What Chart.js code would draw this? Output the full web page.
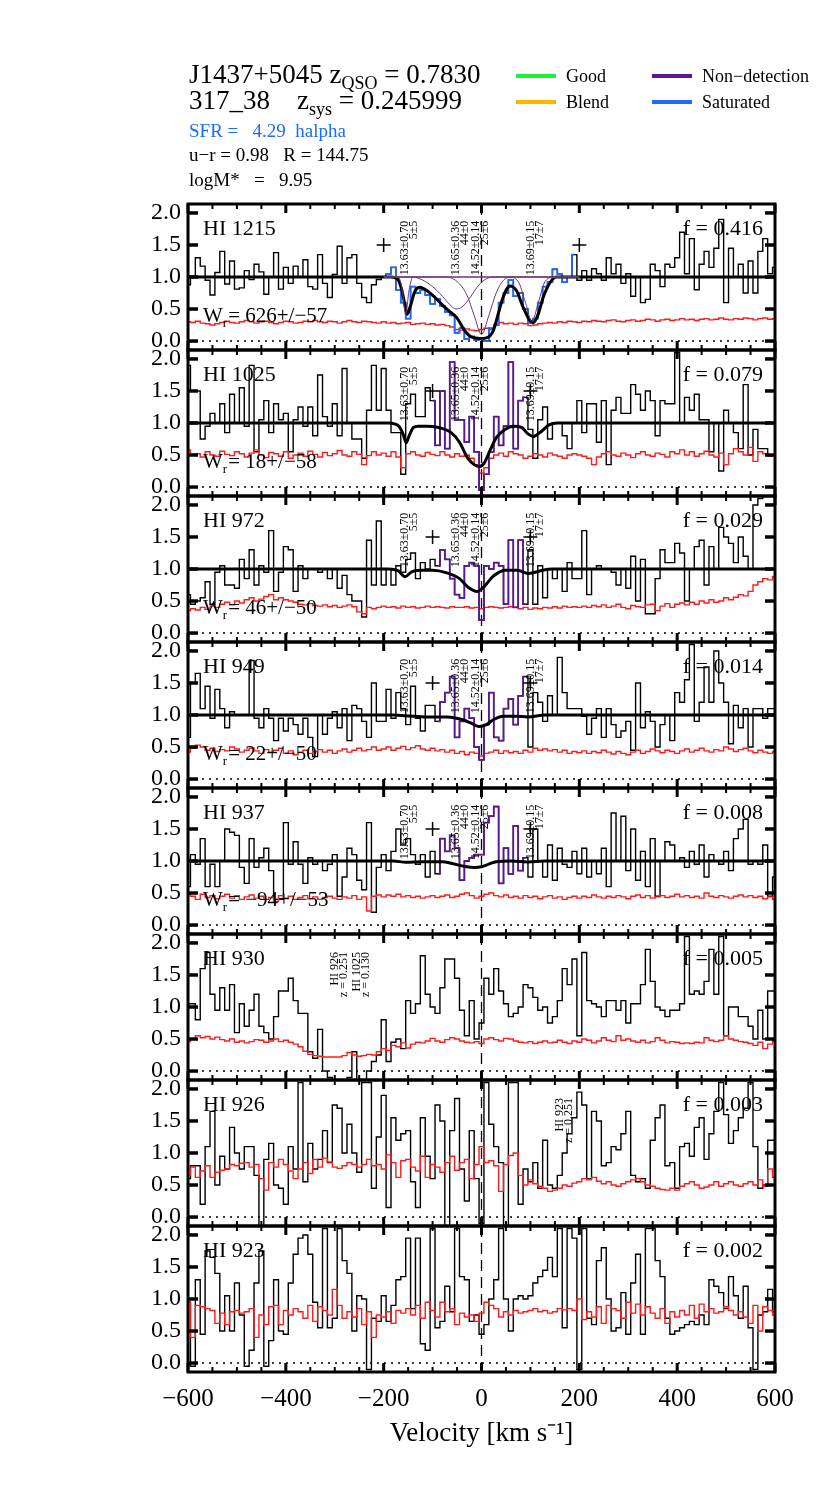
<!DOCTYPE html>
<html>
<head>
<meta charset="utf-8">
<script src="https://cdn.jsdelivr.net/npm/chart.js@4.4.1/dist/chart.umd.min.js"></script>
<style>
  body { margin: 0; background: #fff; font-family: "Liberation Serif", serif; }
  #lienzo { position: relative; width: 830px; height: 1495px; }
  #grafico { position: absolute; left: 0; top: 0; }
  .cab { position: absolute; white-space: pre; color: #000; line-height: 1; }
  .cab sub { font-size: 18px; vertical-align: -6px; }
  .t1 { font-size: 27px; }
  .t2 { font-size: 19px; }
  .ley { position: absolute; height: 4px; width: 40px; }
  .leyTxt { position: absolute; font-size: 18px; line-height: 1; white-space: pre; }
</style>
</head>
<body>
<div id="lienzo">
  <canvas id="grafico" width="830" height="1495"></canvas>
  <div class="cab t1" style="left:189px;top:61px">J1437+5045 z<sub>QSO</sub> = 0.7830</div>
  <div class="cab t1" style="left:189px;top:87px">317_38    z<sub>sys</sub> = 0.245999</div>
  <div class="cab t2" style="left:189px;top:121px;color:#1a6cff">SFR =   4.29  halpha</div>
  <div class="cab t2" style="left:189px;top:145px">u−r = 0.98   R = 144.75</div>
  <div class="cab t2" style="left:189px;top:170px">logM*   =   9.95</div>
  <div class="ley" style="left:516px;top:74px;background:#22ee33"></div>
  <div class="leyTxt" style="left:566px;top:67px">Good</div>
  <div class="ley" style="left:516px;top:100px;background:#ffb400"></div>
  <div class="leyTxt" style="left:566px;top:93px">Blend</div>
  <div class="ley" style="left:652px;top:74px;background:#5a1896"></div>
  <div class="leyTxt" style="left:702px;top:67px">Non−detection</div>
  <div class="ley" style="left:652px;top:100px;background:#1f6bff"></div>
  <div class="leyTxt" style="left:702px;top:93px">Saturated</div>
</div>
<script>
// Rejilla de velocidad (km/s), un bin cada 10 km/s
const velocidad = [];
for (let v = -600; v <= 600; v += 10) velocidad.push(v);

const marcasX = [-600, -400, -200, 0, 200, 400, 600];
const marcasY = [0, 0.5, 1, 1.5, 2];

// Paneles
const lineas = ['HI 1215', 'HI 1025', 'HI 972', 'HI 949', 'HI 937', 'HI 930', 'HI 926', 'HI 923'];
const fracciones = ['f = 0.416', 'f = 0.079', 'f = 0.029', 'f = 0.014', 'f = 0.008', 'f = 0.005', 'f = 0.003', 'f = 0.002'];
const anchos = ['626+/\u221257', '18+/\u221258', '46+/\u221250', '22+/\u221250', '\u221294+/\u221253', null, null, null];

// Flujo normalizado
const flujo1 = [0.88,1.0,1.3,1.17,0.95,0.72,1.07,1.4,0.89,1.25, 0.81,0.83,1.1,0.96,1.2,1.08,0.73,1.0,1.38,0.81,
  1.15,0.9,1.17,1.0,1.27,0.85,0.81,1.35,0.9,0.68, 1.04,1.48,0.9,1.3,1.35,0.9,0.68,0.6,0.88,0.96,
  1.0,1.05,1.15,0.8,0.6,0.35,0.85,0.75,0.8,0.72, 0.58,0.66,0.55,0.45,0.4,0.13,0.2,0.03,0.07,0.02,
  0.05,0.0,0.2,0.25,0.6,0.75,0.95,0.7,0.75,0.5, 0.28,0.35,0.6,0.85,0.92,1.12,1.05,0.92,1.0,1.35,
  0.95,1.1,0.95,1.13,1.05,0.95,1.3,1.05,1.2,0.9, 1.05,0.7,1.0,0.6,0.65,1.2,1.1,0.85,1.2,1.15,
  1.3,1.7,1.05,1.6,0.8,1.2,1.4,1.15,1.45,1.9, 0.6,1.45,1.0,1.2,0.75,1.25,0.75,1.4,1.6,1.05, 1.15];
const flujo2 = [1.9,1.5,1.5,0.75,0.95,1.15,1.0,1.3,0.85,1.45, 1.0,1.55,0.95,1.9,0.55,1.05,1.35,0.85,1.3,1.05,
  1.15,0.55,1.05,1.25,0.95,1.25,0.8,1.75,1.1,0.95, 1.3,0.8,1.85,1.0,0.75,0.75,0.45,1.2,1.9,1.2,
  1.85,1.2,0.85,0.85,0.2,1.3,1.45,1.1,1.1,1.55, 1.35,0.65,1.5,0.6,1.95,1.05,1.05,0.7,1.1,0.55,
  -0.05,0.2,0.55,1.1,0.65,0.95,1.95,0.6,1.35,1.4, 0.9,0.45,1.05,1.25,0.75,1.0,1.0,0.8,0.6,1.0,
  1.35,0.85,1.3,1.3,0.7,1.35,0.35,1.2,1.4,1.15, 1.15,1.6,1.45,1.2,1.5,1.35,0.8,1.35,1.3,1.3,
  2.1,1.0,1.4,1.2,1.45,1.05,1.05,0.55,1.0,0.25, 1.2,1.0,0.85,0.6,1.6,0.5,0.9,0.6,0.6,0.5, 0.5];
const flujo3 = [0.6,0.45,0.5,0.55,0.8,0.45,0.95,1.05,0.75,0.75, 0.7,1.15,0.85,1.3,0.75,1.05,0.95,1.6,0.65,0.95,
  1.35,1.3,0.65,1.05,0.85,1.0,1.0,0.95,1.0,0.85, 1.0,0.7,0.9,0.6,0.5,0.5,0.25,1.45,0.75,1.75,
  0.75,1.0,0.75,1.05,0.95,1.15,1.25,0.85,1.1,1.0, 1.15,1.05,1.3,1.15,0.85,0.6,0.55,1.05,1.1,1.05,
  0.2,1.05,1.0,1.1,1.05,0.45,1.45,0.4,1.45,0.45, 1.3,0.45,1.05,0.55,1.0,0.85,1.0,0.65,1.1,0.85,
  0.85,1.6,0.6,1.0,1.05,1.0,1.0,0.95,0.75,1.0, 0.7,1.2,0.5,1.15,0.3,0.3,0.85,1.3,1.1,1.1,
  1.4,1.25,0.5,1.0,1.35,1.45,0.75,1.35,1.0,1.65, 1.5,1.4,1.1,1.5,1.2,1.0,2.0,2.1,2.15,2.15, 2.15];
const flujo4 = [0.65,1.5,1.65,1.1,1.45,0.95,1.4,1.1,0.8,1.05, 1.0,1.0,1.0,1.85,0.95,0.8,1.1,0.95,0.6,0.95,
  0.75,0.95,0.85,0.7,0.95,0.65,0.35,1.0,0.7,0.95, 1.05,0.8,1.1,0.6,1.15,1.1,0.9,0.65,1.5,0.9,
  0.9,1.4,0.95,1.35,1.1,0.85,1.45,0.95,0.75,1.15, 1.15,0.9,1.2,1.35,1.6,0.65,0.9,1.1,0.95,0.5,
  0.3,0.85,1.35,0.65,0.6,1.1,1.25,0.85,1.3,1.6, 0.5,1.35,1.2,0.9,1.3,1.0,1.9,1.35,1.1,1.1,
  1.1,0.98,0.7,0.95,1.1,0.65,1.1,0.85,0.65,0.75, 0.9,0.45,1.5,0.8,1.05,0.9,0.5,0.85,1.0,0.6,
  1.35,1.2,1.55,2.1,0.9,1.2,1.75,1.2,2.0,1.5, 1.2,0.55,1.15,0.8,1.1,0.5,1.1,1.1,0.95,1.1, 1.1];
const flujo5 = [0.6,1.1,0.95,1.35,0.6,0.95,0.6,1.0,1.5,1.45, 1.4,0.9,0.65,1.35,0.9,1.05,1.2,0.85,0.4,0.4,
  1.6,0.95,1.3,0.95,0.65,1.05,0.95,1.0,0.85,0.95, 1.1,0.45,0.75,1.2,1.1,0.7,0.55,1.6,0.2,0.9,
  1.1,0.85,1.15,1.5,1.25,1.35,1.1,0.95,1.1,0.75, 1.15,0.8,1.35,1.15,1.4,1.2,0.7,1.0,1.05,1.1,
  1.1,1.6,1.7,1.85,0.65,1.2,0.8,1.55,0.85,1.05, 0.75,1.5,1.0,0.75,1.25,0.7,1.2,0.95,0.9,1.15,
  0.8,1.2,0.75,1.0,0.8,1.2,0.6,1.75,1.0,1.7, 0.85,1.5,0.7,1.15,0.6,1.35,0.45,1.0,1.3,1.25,
  1.0,1.05,0.9,1.15,0.95,1.25,0.75,1.1,1.0,0.95, 1.15,0.85,1.35,1.5,1.65,0.95,1.0,0.95,1.25,0.45, 0.75];
const flujo6 = [1.05,1.05,0.8,1.6,1.85,1.2,0.95,1.3,0.95,1.35, 0.6,1.05,0.7,0.95,1.2,0.7,0.6,0.5,0.85,1.25,
  1.25,1.45,1.1,0.9,0.9,0.3,0.2,0.65,0.0,-0.1, -0.15,-0.15,-0.15,-0.1,0.3,-0.15,-0.15,0.0,0.15,0.25,
  0.8,0.15,0.45,0.5,0.35,1.1,0.9,1.05,1.8,1.2, 1.0,0.9,1.3,1.75,1.75,1.45,0.95,0.55,1.1,0.5,
  0.75,1.45,1.2,1.6,1.25,1.05,0.85,0.9,1.0,1.35, 1.3,1.15,0.95,1.0,0.75,0.85,1.1,1.6,1.35,1.75,
  0.55,1.85,1.1,1.05,1.0,0.85,1.1,1.1,0.95,1.1, 0.75,1.05,1.05,1.35,1.9,1.4,1.0,0.95,0.85,0.95,
  0.95,1.05,2.1,1.2,1.25,1.2,1.4,1.9,1.2,2.1, 0.55,1.0,1.0,0.85,0.85,0.7,0.5,0.95,0.5,1.25, 1.25];
const flujo7 = [0.6,0.8,0.8,0.2,1.1,1.65,0.5,0.95,0.75,1.4, 1.0,0.75,1.1,1.1,0.65,-0.2,0.9,1.15,0.5,0.45,
  0.2,1.1,0.75,2.1,0.55,1.15,0.75,0.9,1.35,0.85, 1.75,1.7,1.0,1.45,1.0,0.7,2.1,2.1,0.45,1.25,
  1.9,0.15,1.55,1.2,1.3,1.35,0.55,0.15,1.55,0.95, 0.6,1.75,1.5,-0.2,1.35,1.85,0.75,0.25,1.35,0.6,
  -0.1,2.1,1.45,1.1,0.85,-0.15,2.1,2.1,0.2,0.75, 0.55,0.85,0.45,1.2,0.5,0.45,0.65,1.0,1.3,1.55,
  1.95,1.75,0.6,1.65,1.5,0.8,0.85,1.1,1.05,1.3, 1.65,0.65,0.55,0.6,0.45,1.2,1.55,1.75,0.8,0.85,
  0.45,1.1,1.15,0.95,1.4,1.55,0.9,1.3,1.65,2.1, 1.6,1.15,1.35,1.55,1.7,2.1,1.1,0.45,0.5,1.2, 1.2];
const flujo8 = [0.95,-0.05,1.3,0.45,1.75,1.65,1.4,0.5,1.05,0.5, 1.25,0.75,-0.05,0.2,1.25,1.75,-0.05,0.35,1.3,0.5,
  0.45,1.25,1.7,1.95,2.0,1.7,0.95,0.55,2.1,0.55, 0.7,2.1,1.6,1.4,0.5,1.05,1.0,-0.1,0.7,0.65,
  1.05,0.65,0.9,1.3,1.35,1.95,0.85,1.95,0.3,0.2, 2.1,0.55,0.65,1.2,0.8,2.1,1.35,1.3,0.65,0.75,
  0.45,0.6,1.0,1.3,2.1,1.0,0.5,1.0,1.05,1.0, 1.05,1.25,1.35,1.45,1.65,1.35,2.1,0.55,2.1,1.95,
  -0.1,2.1,0.7,0.6,1.6,1.8,1.0,0.5,0.55,1.1, 0.45,1.25,1.7,0.45,2.1,2.1,1.6,1.35,0.7,0.45,
  0.5,0.55,0.6,0.65,0.6,0.75,0.6,1.3,1.2,1.1, 0.85,1.35,1.05,0.7,1.2,0.55,-0.1,0.75,0.8,1.15, 0.8];

// Error del flujo
const error1 = [0.30,0.29,0.31,0.28,0.27,0.25,0.27,0.29,0.31,0.29,0.28,0.30,0.32,0.30,0.28,0.30,0.31,0.29,0.27,0.29,
  0.31,0.30,0.28,0.29,0.31,0.30,0.32,0.30,0.29,0.31,0.30,0.28,0.30,0.32,0.30,0.29,0.31,0.30,0.29,0.28,
  0.30,0.28,0.29,0.27,0.28,0.29,0.26,0.27,0.28,0.26,0.27,0.25,0.26,0.24,0.22,0.18,0.17,0.19,0.17,0.16,
  0.18,0.20,0.18,0.26,0.29,0.27,0.28,0.26,0.28,0.27,0.24,0.25,0.27,0.28,0.29,0.28,0.30,0.29,0.31,0.30,
  0.29,0.31,0.30,0.32,0.31,0.30,0.32,0.33,0.31,0.30,0.32,0.33,0.31,0.32,0.34,0.33,0.31,0.33,0.34,0.32,0.33,
  0.35,0.33,0.34,0.32,0.34,0.35,0.33,0.34,0.36,0.34,0.33,0.35,0.34,0.36,0.35,0.33,0.35,0.36,0.34,0.35];
const error2 = [0.58,0.50,0.52,0.47,0.55,0.50,0.48,0.56,0.51,0.49,0.55,0.52,0.47,0.53,0.58,0.50,0.46,0.54,0.52,0.48,
  0.55,0.45,0.50,0.53,0.48,0.56,0.51,0.47,0.54,0.49,0.52,0.57,0.50,0.48,0.55,0.51,0.35,0.49,0.55,0.50,
  0.53,0.48,0.55,0.47,0.30,0.52,0.55,0.50,0.48,0.54,0.51,0.49,0.55,0.50,0.47,0.52,0.48,0.50,0.45,0.35,
  0.22,0.30,0.45,0.50,0.53,0.48,0.55,0.52,0.50,0.45,0.48,0.52,0.50,0.47,0.53,0.50,0.48,0.45,0.50,0.52,
  0.50,0.48,0.45,0.35,0.47,0.52,0.55,0.50,0.48,0.53,0.50,0.46,0.52,0.55,0.50,0.48,0.53,0.51,0.47,0.55,0.52,
  0.58,0.50,0.55,0.48,0.52,0.56,0.50,0.47,0.53,0.35,0.52,0.60,0.55,0.50,0.62,0.40,0.55,0.52,0.48,0.50];
const error3 = [0.35,0.38,0.36,0.40,0.37,0.42,0.40,0.45,0.48,0.44,0.50,0.47,0.52,0.55,0.50,0.53,0.57,0.60,0.52,0.55,
  0.52,0.50,0.48,0.45,0.44,0.46,0.43,0.42,0.44,0.41,0.43,0.40,0.42,0.44,0.41,0.33,0.30,0.40,0.38,0.40,
  0.42,0.40,0.41,0.39,0.42,0.40,0.41,0.39,0.40,0.42,0.40,0.41,0.40,0.39,0.41,0.40,0.40,0.41,0.39,0.40,
  0.38,0.40,0.41,0.40,0.39,0.40,0.41,0.40,0.38,0.40,0.37,0.39,0.38,0.40,0.39,0.41,0.39,0.42,0.40,0.41,
  0.40,0.42,0.40,0.43,0.41,0.44,0.40,0.42,0.45,0.40,0.38,0.43,0.41,0.40,0.44,0.45,0.35,0.42,0.46,0.40,0.45,
  0.47,0.44,0.48,0.45,0.50,0.47,0.52,0.48,0.50,0.55,0.52,0.56,0.60,0.58,0.65,0.75,0.80,0.85,0.83,0.88];
const error4 = [0.42,0.48,0.53,0.50,0.45,0.48,0.43,0.46,0.44,0.50,0.47,0.42,0.45,0.48,0.44,0.40,0.46,0.42,0.45,0.48,
  0.40,0.44,0.38,0.42,0.45,0.40,0.43,0.46,0.42,0.45,0.40,0.44,0.47,0.42,0.45,0.48,0.44,0.46,0.50,0.45,
  0.47,0.50,0.45,0.48,0.51,0.46,0.49,0.52,0.47,0.45,0.48,0.44,0.46,0.42,0.45,0.40,0.43,0.38,0.42,0.40,
  0.36,0.40,0.42,0.45,0.40,0.44,0.41,0.43,0.40,0.45,0.42,0.48,0.45,0.47,0.44,0.46,0.42,0.45,0.40,0.43,
  0.41,0.44,0.40,0.43,0.41,0.45,0.42,0.39,0.43,0.40,0.38,0.42,0.45,0.40,0.43,0.47,0.44,0.41,0.45,0.43,0.40,
  0.44,0.47,0.42,0.45,0.48,0.44,0.42,0.46,0.44,0.50,0.47,0.43,0.46,0.48,0.44,0.41,0.45,0.42,0.40,0.43];
const error5 = [0.50,0.45,0.40,0.48,0.43,0.46,0.41,0.45,0.48,0.42,0.46,0.40,0.44,0.47,0.42,0.45,0.40,0.43,0.37,0.46,
  0.42,0.45,0.40,0.43,0.46,0.41,0.44,0.40,0.43,0.45,0.42,0.40,0.44,0.42,0.46,0.40,0.44,0.22,0.45,0.47,
  0.44,0.47,0.45,0.48,0.44,0.46,0.43,0.45,0.42,0.44,0.46,0.43,0.45,0.47,0.43,0.45,0.48,0.50,0.46,0.42,
  0.45,0.48,0.50,0.46,0.44,0.47,0.43,0.45,0.42,0.46,0.43,0.45,0.41,0.44,0.46,0.42,0.44,0.40,0.43,0.45,
  0.42,0.45,0.43,0.47,0.44,0.42,0.45,0.43,0.46,0.44,0.41,0.45,0.47,0.43,0.46,0.42,0.44,0.46,0.43,0.45,0.48,
  0.44,0.46,0.43,0.45,0.42,0.50,0.45,0.43,0.46,0.44,0.42,0.45,0.47,0.44,0.46,0.43,0.45,0.41,0.44,0.40];
const error6 = [0.46,0.50,0.55,0.52,0.54,0.50,0.53,0.49,0.47,0.50,0.45,0.47,0.44,0.46,0.49,0.48,0.45,0.47,0.50,0.46,
  0.48,0.45,0.42,0.38,0.31,0.26,0.24,0.23,0.22,0.22,0.22,0.22,0.24,0.29,0.25,0.23,0.24,0.26,0.25,0.30,
  0.35,0.32,0.40,0.38,0.44,0.36,0.42,0.45,0.44,0.47,0.51,0.47,0.45,0.49,0.52,0.50,0.47,0.45,0.44,0.46,
  0.43,0.50,0.52,0.49,0.47,0.51,0.50,0.47,0.45,0.44,0.46,0.43,0.45,0.47,0.44,0.45,0.48,0.45,0.43,0.47,
  0.45,0.50,0.48,0.44,0.47,0.52,0.48,0.46,0.55,0.48,0.50,0.47,0.45,0.48,0.44,0.46,0.52,0.48,0.44,0.46,0.45,
  0.43,0.44,0.43,0.45,0.44,0.52,0.48,0.46,0.48,0.55,0.50,0.48,0.46,0.45,0.43,0.40,0.45,0.35,0.42,0.47];
const error7 = [0.65,0.78,0.62,0.72,0.80,0.62,0.70,0.73,0.75,0.82,0.80,0.84,0.85,0.78,0.82,0.60,0.42,0.85,0.78,0.90,
  0.82,0.72,0.60,0.75,0.85,0.68,0.90,0.78,0.92,0.86,0.78,0.76,0.80,0.85,0.82,0.78,0.82,0.90,0.80,0.82,
  0.75,0.97,0.85,0.62,0.88,0.90,0.78,0.72,0.95,0.62,0.82,0.78,0.70,0.85,0.95,0.73,0.85,0.90,0.60,0.82,
  1.10,0.85,0.88,0.80,0.40,0.82,0.96,1.00,0.65,0.50,0.58,0.52,0.48,0.45,0.40,0.42,0.45,0.50,0.48,0.53,
  0.55,0.60,0.58,0.62,0.56,0.52,0.55,0.50,0.48,0.52,0.55,0.58,0.60,0.55,0.50,0.48,0.45,0.43,0.42,0.45,0.42,
  0.48,0.52,0.55,0.50,0.45,0.47,0.50,0.55,0.48,0.52,0.55,0.50,0.48,0.52,0.55,0.50,0.58,0.48,0.75,0.62];
const error8 = [0.95,0.40,0.90,0.88,0.85,0.82,0.62,0.78,0.60,0.80,0.82,0.78,0.80,0.85,0.40,0.75,0.60,0.88,0.90,0.60,
  0.82,0.75,0.85,0.80,0.70,0.90,0.65,0.88,0.82,0.75,1.15,0.90,0.70,0.80,0.72,0.85,0.60,0.80,0.40,0.75,
  0.72,0.80,0.62,0.82,0.78,0.85,0.75,0.90,0.70,0.95,0.82,0.72,0.95,0.80,0.85,0.60,0.78,0.72,0.75,0.65,
  0.78,0.95,0.90,0.85,0.72,0.80,0.75,0.82,0.78,0.80,0.82,0.85,0.80,0.82,0.78,0.80,0.85,0.83,0.85,0.82,
  1.00,0.68,0.80,0.72,0.88,0.62,0.90,0.85,0.82,0.70,0.95,0.78,0.92,0.75,0.88,0.78,0.70,0.85,0.62,0.80,0.72,
  0.82,0.75,0.90,0.70,0.92,0.80,0.85,0.78,0.80,0.88,0.82,0.75,0.80,0.72,0.62,0.90,0.50,0.88,0.82,0.75];

const flujos = [flujo1, flujo2, flujo3, flujo4, flujo5, flujo6, flujo7, flujo8];
const errores = [error1, error2, error3, error4, error5, error6, error7, error8];

// Ajustes de Voigt (perfil total)
const ajusteVel1 = [-600,-185,-172,-163,-157,-152,-146,-136,-126,-112,-95,-78,-65,-51,-34,-20,-3,10,24,34,44,58,72,85,99,106,116,126,140,153,170,600];
const ajusteFlujo1 = [1,1,0.97,0.8,0.58,0.42,0.53,0.78,0.84,0.79,0.68,0.55,0.46,0.37,0.16,0.06,0.04,0.05,0.16,0.42,0.68,0.86,0.78,0.53,0.32,0.29,0.42,0.68,0.91,1.0,1,1];
const ajusteVel2 = [-600,-190,-169,-160,-154,-148,-139,-130,-113,-88,-62,-45,-28,-15,-4,6,19,31,48,65,82,95,106,121,138,155,600];
const ajusteFlujo2 = [1,1,0.95,0.82,0.69,0.8,0.93,0.95,0.95,0.93,0.85,0.7,0.45,0.35,0.32,0.38,0.6,0.78,0.9,0.95,0.93,0.83,0.79,0.86,0.97,1,1];
const ajusteVel3 = [-600,-190,-170,-156,-142,-120,-100,-71,-45,-28,-9,6,23,48,74,86,95,106,125,145,600];
const ajusteFlujo3 = [1,1,0.97,0.88,0.96,0.98,0.98,0.94,0.85,0.72,0.65,0.73,0.88,0.98,0.98,0.95,0.93,0.94,0.98,1,1];
const ajusteVel4 = [-600,-180,-155,-110,-70,-40,-20,-5,10,25,45,70,95,130,600];
const ajusteFlujo4 = [1,1,0.99,0.97,0.97,0.93,0.87,0.82,0.85,0.93,0.98,0.98,0.97,1,1];
const ajusteVel5 = [-600,-180,-155,-120,-80,-60,-30,-15,0,15,30,60,95,130,600];
const ajusteFlujo5 = [1,1,0.98,0.99,0.99,0.96,0.91,0.9,0.91,0.95,0.99,1,0.985,1,1];
const ajustesVel = [ajusteVel1, ajusteVel2, ajusteVel3, ajusteVel4, ajusteVel5];
const ajustesFlujo = [ajusteFlujo1, ajusteFlujo2, ajusteFlujo3, ajusteFlujo4, ajusteFlujo5];

// Componentes individuales en HI 1215
const compVelA = [-200,-170,-162,-155,-148,-140,200];
const compFlujoA = [1,1,0.8,0.42,0.8,1,1];
const compVelB = [-200,-140,-120,-100,-80,-65,-52,-40,-25,-10,5,25,200];
const compFlujoB = [1,1,0.95,0.85,0.7,0.57,0.5,0.53,0.66,0.83,0.95,1,1];
const compVelC = [-200,-75,-50,-30,-15,0,15,30,45,60,200];
const compFlujoC = [1,1,0.93,0.72,0.4,0.1,0.4,0.75,0.95,1,1];
const compVelD = [-200,55,75,90,103,116,130,150,200];
const compFlujoD = [1,1,0.93,0.6,0.3,0.6,0.93,1,1];

// Tramos marcados (saturado / no detección)
const tramoColor = ['#1f6bff', '#5a1896', '#5a1896', '#5a1896', '#5a1896'];
const tramoIni = [-200, -100, -90, -90, -90];
const tramoFin = [195, 90, 90, 90, 90];

// Límites de integración
const cruzVel = [[-200, 200], [-100, 100], [-100, 100], [-100, 100], [-100, 100]];
const cruzFlujo = 1.5;

// Etiquetas de componentes: logN y b
const compVel = [-157, -52, -12, 100];
const compLogN = ['13.63\u00b10.70', '13.65\u00b10.36', '14.52\u00b10.14', '13.69\u00b10.15'];
const compB = ['5\u00b15', '44\u00b10', '25\u00b16', '17\u00b17'];

// Líneas ajenas (contaminación)
const ajenasPanel = [5, 5, 6];
const ajenasVel = [-300, -254, 160];
const ajenasLinea = ['HI 926', 'HI 1025', 'HI 923'];
const ajenasZ = ['z = 0.251', 'z = 0.130', 'z = 0.251'];

const FUENTE = '"Liberation Serif", "Times New Roman", serif';

function puntos(vel, vals) {
    return vel.map((v, i) => ({ x: v, y: vals[i] }));
}

// Construir datasets
const datasets = [];
for (let p = 0; p < lineas.length; p++) {
    const eje = 'y' + p;
    datasets.push({
        data: puntos(velocidad, flujos[p]), yAxisID: eje, stepped: 'middle',
        borderColor: '#000', borderWidth: 1.4, pointRadius: 0, order: 6
    });
    datasets.push({
        data: puntos(velocidad, errores[p]), yAxisID: eje, stepped: 'middle',
        borderColor: '#ff1a1a', borderWidth: 1.4, pointRadius: 0, order: 5
    });
    if (p < tramoColor.length) {
        const tramo = puntos(velocidad, flujos[p]).filter(d => d.x >= tramoIni[p] && d.x <= tramoFin[p]);
        datasets.push({
            data: tramo, yAxisID: eje, stepped: 'middle',
            borderColor: tramoColor[p], borderWidth: 1.7, pointRadius: 0, order: 4
        });
        datasets.push({
            data: puntos(ajustesVel[p], ajustesFlujo[p]), yAxisID: eje,
            cubicInterpolationMode: 'monotone', borderColor: '#000', borderWidth: 3, pointRadius: 0, order: 3
        });
        datasets.push({
            data: cruzVel[p].map(v => ({ x: v, y: cruzFlujo })), yAxisID: eje, showLine: false,
            pointStyle: 'cross', pointRadius: 7, pointBorderWidth: 1.5, pointBorderColor: '#000', order: 0
        });
    }
}
[[compVelA, compFlujoA], [compVelB, compFlujoB], [compVelC, compFlujoC], [compVelD, compFlujoD]].forEach(([v, f]) => {
    datasets.push({
        data: puntos(v, f), yAxisID: 'y0', cubicInterpolationMode: 'monotone',
        borderColor: '#6b3a70', borderWidth: 1, pointRadius: 0, order: 2
    });
});

// Escalas: un eje y apilado por panel
const escalas = {
    x: {
        type: 'linear', min: -600, max: 600,
        afterBuildTicks: s => { s.ticks = marcasX.map(v => ({ value: v })); },
        afterFit: s => { s.height = 78; },
        ticks: {
            callback: v => (v < 0 ? '\u2212' + (-v) : '' + v),
            font: { family: FUENTE, size: 25 }, color: '#000', padding: 12, maxRotation: 0, autoSkip: false
        },
        grid: { display: false, drawTicks: false }, border: { display: false },
        title: {
            display: true, text: 'Velocity [km s\u207b\u00b9]', color: '#000',
            font: { family: FUENTE, size: 27 }, padding: { top: 4, bottom: 0 }
        }
    }
};
for (let p = 0; p < lineas.length; p++) {
    escalas['y' + p] = {
        type: 'linear', position: 'left', stack: 'espectro', stackWeight: 1, weight: 20 - p,
        min: -0.14, max: 2.14,
        afterBuildTicks: s => { s.ticks = marcasY.map(v => ({ value: v })); },
        afterFit: s => { s.width = 188; },
        ticks: {
            callback: v => v.toFixed(1), font: { family: FUENTE, size: 24 }, color: '#000',
            padding: 7, autoSkip: false
        },
        grid: { display: false, drawTicks: false }, border: { display: false }
    };
}

function linea(ctx, x1, y1, x2, y2) {
    ctx.beginPath(); ctx.moveTo(x1, y1); ctx.lineTo(x2, y2); ctx.stroke();
}

function textoVertical(ctx, txt, x, y) {
    ctx.save();
    ctx.translate(x, y);
    ctx.rotate(-Math.PI / 2);
    ctx.textAlign = 'right';
    ctx.textBaseline = 'middle';
    ctx.fillText(txt, 0, 0);
    ctx.restore();
}

// Marcos, marcas de ejes y rótulos de cada panel
const decoracion = {
    id: 'decoracion',
    beforeDatasetsDraw(chart) {
        const ctx = chart.ctx, xs = chart.scales.x;
        for (let p = 0; p < lineas.length; p++) {
            const ys = chart.scales['y' + p];
            ctx.save();
            ctx.strokeStyle = '#000';
            ctx.lineWidth = 1.6;
            ctx.setLineDash([2, 5]);
            const y0 = ys.getPixelForValue(0);
            linea(ctx, xs.left, y0, xs.right, y0);
            ctx.lineWidth = 1.3;
            ctx.setLineDash([11, 6]);
            const x0 = xs.getPixelForValue(0);
            linea(ctx, x0, ys.top, x0, ys.bottom);
            ctx.restore();
        }
    },
    afterDatasetsDraw(chart) {
        const ctx = chart.ctx, xs = chart.scales.x;
        ctx.save();
        ctx.strokeStyle = '#000';
        ctx.fillStyle = '#000';
        for (let p = 0; p < lineas.length; p++) {
            const ys = chart.scales['y' + p];
            const top = ys.top, bottom = ys.bottom;
            // marcas del eje x arriba y abajo
            for (let v = -600; v <= 600; v += 50) {
                const x = xs.getPixelForValue(v);
                const mayor = v % 200 === 0;
                ctx.lineWidth = mayor ? 3 : 2;
                const largo = mayor ? 9 : 5;
                linea(ctx, x, top, x, top + largo);
                linea(ctx, x, bottom, x, bottom - largo);
            }
            // marcas del eje y a ambos lados
            ctx.lineWidth = 3.5;
            marcasY.forEach(f => {
                const y = ys.getPixelForValue(f);
                linea(ctx, xs.left, y, xs.left + 10, y);
                linea(ctx, xs.right, y, xs.right - 10, y);
            });
            ctx.lineWidth = 3;
            ctx.strokeRect(xs.left, top, xs.right - xs.left, bottom - top);

            // rótulos
            ctx.font = '22px ' + FUENTE;
            ctx.textBaseline = 'alphabetic';
            ctx.textAlign = 'left';
            const yRot = ys.getPixelForValue(1.66);
            ctx.fillText(lineas[p], xs.left + 15, yRot);
            ctx.textAlign = 'right';
            ctx.fillText(fracciones[p], xs.right - 12, yRot);
            ctx.textAlign = 'left';
            if (anchos[p]) {
                let x = xs.left + 15;
                const y = ys.getPixelForValue(0.3);
                ctx.font = '21px ' + FUENTE;
                ctx.fillText('W', x, y);
                x += ctx.measureText('W').width;
                ctx.font = '13px ' + FUENTE;
                ctx.fillText('r', x, y + 5);
                x += ctx.measureText('r').width + 1;
                ctx.font = '21px ' + FUENTE;
                ctx.fillText('= ' + anchos[p], x, y);
            }
            // etiquetas de componentes
            if (p < 5) {
                ctx.font = '12px ' + FUENTE;
                const yTope = ys.getPixelForValue(1.88);
                compVel.forEach((v, i) => {
                    const x = xs.getPixelForValue(v);
                    textoVertical(ctx, compLogN[i], x, yTope);
                    textoVertical(ctx, compB[i], x + 9, yTope);
                });
            }
        }
        // líneas ajenas
        ctx.font = '12px ' + FUENTE;
        ajenasPanel.forEach((p, i) => {
            const ys = chart.scales['y' + p];
            const x = xs.getPixelForValue(ajenasVel[i]);
            const yTope = ys.getPixelForValue(1.86);
            textoVertical(ctx, ajenasLinea[i], x, yTope);
            textoVertical(ctx, ajenasZ[i], x + 9, yTope);
        });
        ctx.restore();
    }
};

const ctx = document.getElementById('grafico').getContext('2d');
const chart = new Chart(ctx, {
    type: 'line',
    data: { datasets: datasets },
    options: {
        responsive: false,
        animation: false,
        devicePixelRatio: 1,
        layout: { padding: { top: 204, right: 55, bottom: 45, left: 0 } },
        plugins: { legend: { display: false }, tooltip: { enabled: false } },
        scales: escalas
    },
    plugins: [decoracion]
});
</script>
</body>
</html>
